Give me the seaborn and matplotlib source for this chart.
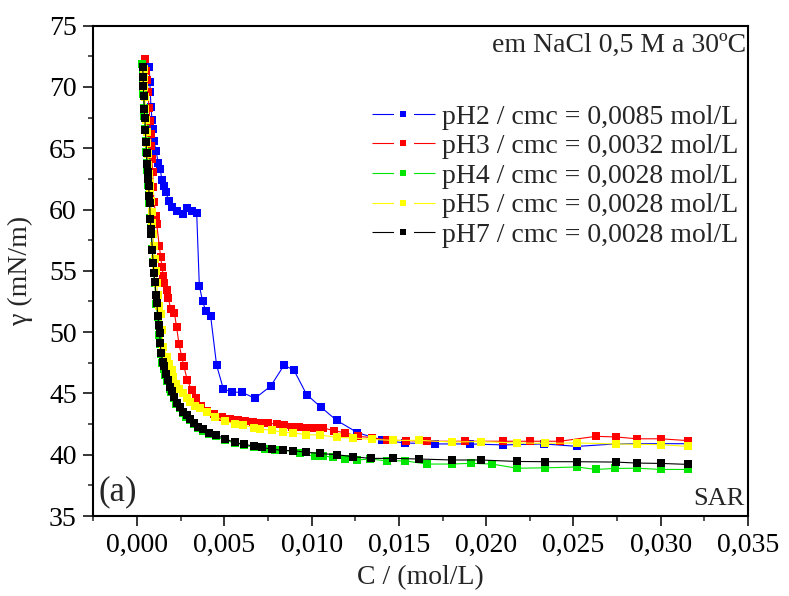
import matplotlib
matplotlib.use("Agg")
import numpy as np
import pandas as pd
import seaborn as sns
import matplotlib.pyplot as plt
from matplotlib.lines import Line2D
from matplotlib.legend_handler import HandlerTuple
from matplotlib.ticker import AutoMinorLocator

# ---------------- data ----------------
labels = ["pH2 / cmc = 0,0085 mol/L", "pH3 / cmc = 0,0032 mol/L",
          "pH4 / cmc = 0,0028 mol/L", "pH5 / cmc = 0,0028 mol/L",
          "pH7 / cmc = 0,0028 mol/L"]
colors = ["#0000ff", "#ff0000", "#00e600", "#ffff00", "#000000"]

x_ph2 = [0.00070, 0.00074, 0.00076, 0.00080, 0.00086, 0.00090, 0.00097, 0.00109, 0.00122, 0.00133,
         0.00143, 0.00155, 0.00166, 0.00182, 0.00199, 0.00227, 0.00265, 0.00285, 0.00313, 0.00342,
         0.00357, 0.00376, 0.00395, 0.00422, 0.00456, 0.00494, 0.00542, 0.00600, 0.00676, 0.00766,
         0.00842, 0.00899, 0.00972, 0.01052, 0.01144, 0.01263, 0.01401, 0.01535, 0.01707, 0.01907,
         0.02098, 0.02331, 0.02522, 0.02741, 0.02862, 0.03001, 0.03154]
y_ph2 = [71.6, 70.4, 69.6, 68.4, 67.3, 66.6, 65.6, 64.8, 63.8, 63.3,
         62.4, 61.9, 61.4, 60.7, 60.2, 59.9, 59.6, 60.1, 59.9, 59.7,
         53.8, 52.5, 51.7, 51.3, 47.3, 45.4, 45.1, 45.1, 44.6, 45.6,
         47.3, 46.9, 44.9, 43.9, 42.8, 41.8, 41.2, 40.96, 40.88, 40.88,
         40.8, 40.88, 40.68, 40.88, 40.9, 40.9, 40.9]

x_ph3 = [0.00046, 0.00054, 0.00059, 0.00063, 0.00069, 0.00074, 0.00078, 0.00082, 0.00084, 0.00090,
         0.00093, 0.00097, 0.00109, 0.00113, 0.00128, 0.00136, 0.00143, 0.00151, 0.00156, 0.00170,
         0.00179, 0.00193, 0.00214, 0.00227, 0.00241, 0.00256, 0.00269, 0.00288, 0.00313, 0.00338,
         0.00367, 0.00401, 0.00441, 0.00487, 0.00533, 0.00580, 0.00618, 0.00666, 0.00708, 0.00752,
         0.00800, 0.00842, 0.00886, 0.00928, 0.00974, 0.01019, 0.01067, 0.01128, 0.01190, 0.01267,
         0.01344, 0.01430, 0.01539, 0.01659, 0.01878, 0.02098, 0.02251, 0.02423, 0.02629, 0.02743,
         0.02863, 0.03001, 0.03154]
y_ph3 = [72.3, 71.3, 70.6, 69.6, 68.3, 67.2, 66.2, 65.2, 64.1, 63.1,
         61.8, 60.6, 59.45, 58.8, 57.0, 56.1, 55.3, 54.6, 54.0, 53.4,
         52.8, 51.9, 51.6, 50.4, 49.0, 48.0, 47.2, 46.1, 45.25, 44.6,
         43.95, 43.6, 43.3, 43.05, 42.9, 42.8, 42.75, 42.7, 42.6, 42.56,
         42.5, 42.45, 42.3, 42.24, 42.2, 42.2, 42.2, 41.95, 41.8, 41.5,
         41.4, 41.2, 41.15, 41.1, 41.1, 41.1, 41.1, 41.1, 41.5, 41.45,
         41.3, 41.3, 41.15]

x_ph4 = [0.00031, 0.00033, 0.00035, 0.00037, 0.00040, 0.00043, 0.00046, 0.00050, 0.00053, 0.00056,
         0.00059, 0.00062, 0.00065, 0.00068, 0.00071, 0.00074, 0.00078, 0.00081, 0.00086, 0.00091,
         0.00095, 0.00101, 0.00107, 0.00111, 0.00118, 0.00124, 0.00128, 0.00131, 0.00136, 0.00145,
         0.00154, 0.00162, 0.00174, 0.00187, 0.00197, 0.00212, 0.00225, 0.00244, 0.00263, 0.00283,
         0.00302, 0.00324, 0.00349, 0.00378, 0.00412, 0.00450, 0.00502, 0.00559, 0.00611, 0.00668,
         0.00733, 0.00790, 0.00893, 0.00933, 0.01019, 0.01065, 0.01122, 0.01191, 0.01260, 0.01334,
         0.01432, 0.01535, 0.01660, 0.01804, 0.01913, 0.02033, 0.02176, 0.02337, 0.02520, 0.02629,
         0.02737, 0.02863, 0.03001, 0.03156]
y_ph4 = [71.9, 71.0, 70.2, 69.4, 68.3, 67.6, 66.6, 65.6, 64.7, 63.8,
         63.2, 62.6, 62.0, 61.2, 60.5, 59.3, 58.5, 58.0, 56.8, 55.7,
         54.8, 54.0, 53.0, 52.3, 51.2, 50.5, 49.8, 49.0, 48.2, 47.5,
         47.0, 46.5, 46.0, 45.4, 45.1, 44.6, 44.1, 43.8, 43.4, 43.1,
         42.8, 42.5, 42.2, 41.9, 41.7, 41.5, 41.2, 40.95, 40.8, 40.6,
         40.47, 40.38, 40.27, 40.1, 39.86, 39.92, 39.78, 39.65, 39.57, 39.65,
         39.5, 39.5, 39.24, 39.24, 39.3, 39.24, 38.9, 38.93, 39.0, 38.8,
         38.88, 38.9, 38.8, 38.8]

x_ph5 = [0.00038, 0.00040, 0.00042, 0.00045, 0.00048, 0.00051, 0.00055, 0.00059, 0.00062, 0.00065,
         0.00069, 0.00072, 0.00076, 0.00080, 0.00084, 0.00088, 0.00092, 0.00097, 0.00102, 0.00107,
         0.00113, 0.00118, 0.00128, 0.00136, 0.00141, 0.00151, 0.00170, 0.00185, 0.00199, 0.00208,
         0.00223, 0.00242, 0.00262, 0.00285, 0.00304, 0.00332, 0.00361, 0.00399, 0.00447, 0.00504,
         0.00561, 0.00609, 0.00670, 0.00704, 0.00771, 0.00838, 0.00895, 0.00968, 0.01048, 0.01144,
         0.01235, 0.01344, 0.01464, 0.01617, 0.01802, 0.01970, 0.02175, 0.02337, 0.02522, 0.02741,
         0.02862, 0.03001, 0.03154]
y_ph5 = [71.5, 70.7, 70.0, 69.2, 68.2, 67.3, 66.3, 65.4, 64.5, 63.6,
         62.9, 62.2, 61.5, 60.7, 59.8, 58.9, 58.0, 57.0, 56.0, 55.0,
         54.0, 53.0, 52.1, 51.5, 50.2, 48.8, 48.0, 47.4, 46.9, 46.3,
         45.8, 45.4, 45.0, 44.6, 44.3, 44.0, 43.8, 43.5, 43.1, 42.75,
         42.5, 42.4, 42.2, 42.1, 42.0, 41.83, 41.78, 41.64, 41.61, 41.42,
         41.37, 41.25, 41.17, 41.17, 41.04, 41.07, 40.96, 40.93, 40.96, 40.88,
         40.85, 40.82, 40.68]

x_ph7 = [0.00033, 0.00035, 0.00037, 0.00039, 0.00042, 0.00045, 0.00048, 0.00052, 0.00055, 0.00058,
         0.00061, 0.00064, 0.00067, 0.00070, 0.00073, 0.00076, 0.00080, 0.00083, 0.00088, 0.00093,
         0.00097, 0.00103, 0.00109, 0.00113, 0.00120, 0.00126, 0.00130, 0.00133, 0.00138, 0.00147,
         0.00156, 0.00164, 0.00176, 0.00189, 0.00199, 0.00214, 0.00227, 0.00246, 0.00265, 0.00285,
         0.00304, 0.00326, 0.00351, 0.00380, 0.00414, 0.00452, 0.00504, 0.00561, 0.00613, 0.00670,
         0.00716, 0.00773, 0.00836, 0.00893, 0.00968, 0.01048, 0.01145, 0.01237, 0.01340, 0.01466,
         0.01615, 0.01804, 0.01970, 0.02176, 0.02337, 0.02520, 0.02743, 0.02863, 0.03001, 0.03156]
y_ph7 = [71.6, 70.8, 70.1, 69.3, 68.2, 67.5, 66.5, 65.5, 64.6, 63.7,
         63.1, 62.5, 61.9, 61.1, 60.5, 59.2, 58.4, 58.0, 56.7, 55.6,
         54.8, 54.1, 53.0, 52.4, 51.3, 50.6, 49.9, 49.1, 48.3, 47.6,
         47.2, 46.6, 46.1, 45.5, 45.2, 44.7, 44.2, 43.9, 43.5, 43.2,
         42.9, 42.6, 42.3, 42.1, 41.8, 41.6, 41.3, 41.0, 40.85, 40.7,
         40.6, 40.45, 40.35, 40.34, 40.2, 40.1, 40.0, 39.84, 39.7, 39.7,
         39.65, 39.57, 39.57, 39.45, 39.43, 39.43, 39.4, 39.32, 39.29, 39.21]

xticks = [0.000, 0.005, 0.010, 0.015, 0.020, 0.025, 0.030, 0.035]
yticks = [35, 40, 45, 50, 55, 60, 65, 70, 75]

series = [(x_ph2, y_ph2), (x_ph3, y_ph3), (x_ph4, y_ph4), (x_ph5, y_ph5), (x_ph7, y_ph7)]

# ---------------- style ----------------
sns.set_theme(style="ticks")
plt.rcParams["font.family"] = ["Liberation Serif", "DejaVu Serif"]
plt.rcParams["lines.scale_dashes"] = False

fig = plt.figure(figsize=(7.89, 5.96), dpi=100)
ax = fig.add_axes([0.1183, 0.1342, 0.8298, 0.8227])

for (xs, ys), col in zip(series, colors):
    sns.lineplot(x=xs, y=ys, ax=ax, color=col, marker="s", markersize=5.2,
                 markeredgewidth=0, linewidth=0.8, estimator=None, sort=False)

ax.set_xlim(-0.0025, 0.035)
ax.set_ylim(35, 75)
ax.set_xticks(xticks)
ax.set_xticklabels([f"{v:.3f}".replace(".", ",") for v in xticks])
ax.set_yticks(yticks)
ax.set_yticklabels([str(v) for v in yticks])
ax.xaxis.set_minor_locator(AutoMinorLocator(2))
ax.yaxis.set_minor_locator(AutoMinorLocator(2))
ax.tick_params(which="major", direction="out", length=7, width=1.1, labelsize=20,
               colors="black", pad=5, top=False, right=False)
ax.tick_params(which="minor", direction="out", length=3.6, width=1.1, top=False, right=False)
for sp in ax.spines.values():
    sp.set_linewidth(1.5)
    sp.set_color("black")
    sp.set_visible(True)

ax.set_xlabel("C / (mol/L)", fontsize=20)
ax.set_ylabel("γ (mN/m)", fontsize=20)
ax.xaxis.label.set_va("center")
ax.yaxis.label.set_va("center")
ax.xaxis.set_label_coords(0.5, -0.1265)
ax.yaxis.set_label_coords(-0.112, 0.50)

ax.text(0.997, 0.985, "em NaCl 0,5 M a 30ºC", transform=ax.transAxes,
        ha="right", va="top", fontsize=20)
ax.text(0.995, 0.022, "SAR", transform=ax.transAxes, ha="right", va="baseline", fontsize=19)
ax.text(0.008, 0.049, "(a)", transform=ax.transAxes, ha="left", va="center", fontsize=25)

handles = []
for col in colors:
    ln = Line2D([], [], color=col, linewidth=0.8, dashes=(15.5, 14.4))
    mk = Line2D([], [], color=col, marker="s", markersize=3.8, markeredgewidth=0, linestyle="none")
    handles.append((ln, mk))
ax.legend(handles, labels, handler_map={tuple: HandlerTuple(ndivide=1)},
          loc="upper right", bbox_to_anchor=(0.985, 0.84), frameon=False,
          fontsize=20, handlelength=2.27, handletextpad=0.25, labelspacing=0.15,
          borderaxespad=0, borderpad=0)

fig.savefig("out.png", dpi=100)
